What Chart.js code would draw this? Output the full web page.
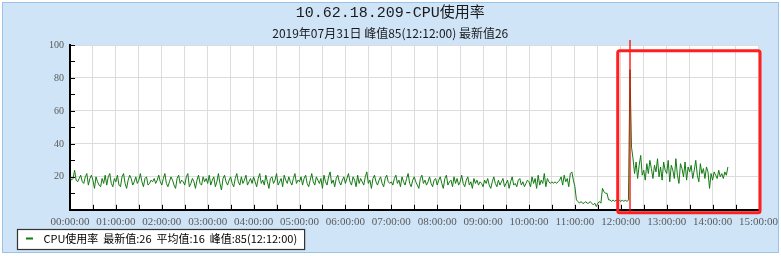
<!DOCTYPE html>
<html>
<head>
<meta charset="utf-8">
<script src="https://cdn.jsdelivr.net/npm/chart.js@4.4.1/dist/chart.umd.min.js"></script>
<style>
  html, body { margin: 0; padding: 0; background: #ffffff; }
  #panel { position: absolute; left: 2px; top: 2px; width: 775px; height: 249px;
           background: #cfe4f7; border: 1px solid #9cc2e8; }
  #wrap { position: absolute; left: 0; top: 0; width: 781px; height: 256px; }
</style>
</head>
<body>
<div id="panel"></div>
<div id="wrap"><canvas id="c" width="781" height="256"></canvas></div>
<script>
// ---- data (2‑minute samples starting 00:00) ----
const title = "10.62.18.209-CPU使用率";
const subtitle = "2019年07月31日 峰值85(12:12:00) 最新值26";
const seriesName = "CPU使用率";
const statLatest = 26;
const statAverage = 16;
const statPeak = 85;
const statPeakTime = "12:12:00";
const sampleStepMinutes = 2;
const hourTickLabels = ["00:00:00","01:00:00","02:00:00","03:00:00","04:00:00","05:00:00","06:00:00","07:00:00","08:00:00","09:00:00","10:00:00","11:00:00","12:00:00","13:00:00","14:00:00","15:00:00"];
const yTickLabels = [20, 40, 60, 80, 100];

const h00 = [20,18,19,24,18,17,19,21,17,16,20,22,15,19,21,18,13,20,17,15,14,19,16,21,15,20,22,16,14,19];
const h01 = [17,21,15,14,20,22,16,13,18,21,19,15,17,20,16,18,22,17,14,19,20,15,16,18,17,19,16,18,21,17];
const h02 = [15,19,22,16,14,17,20,18,15,13,19,21,16,18,17,15,20,22,14,16,19,17,13,18,21,16,15,20,17,19];
const h03 = [16,21,15,18,20,14,17,22,16,12,19,21,17,15,18,20,16,14,19,22,17,15,20,16,18,21,15,17,19,16];
const h04 = [20,17,14,19,22,16,18,15,21,17,13,19,20,16,18,22,15,17,19,14,21,18,16,20,17,15,19,22,16,18];
const h05 = [17,20,15,19,21,16,14,18,22,17,15,20,18,16,19,13,21,17,15,20,23,16,18,14,19,21,17,15,18,20];
const h06 = [16,19,22,17,15,20,18,14,21,16,19,17,15,20,23,16,18,13,19,21,17,15,18,20,16,14,19,21,17,16];
const h07 = [17,15,19,21,16,18,14,20,17,15,19,22,16,14,18,20,17,15,13,19,21,16,18,15,17,20,16,14,18,19];
const h08 = [15,18,20,16,13,19,21,15,17,18,14,20,16,19,15,17,21,16,14,18,20,15,17,13,19,16,18,15,17,16];
const h09 = [14,18,16,19,15,13,17,20,16,14,18,15,17,19,14,16,18,13,17,20,15,16,14,18,19,15,17,14,16,18];
const h10 = [17,14,20,16,19,13,21,15,18,16,22,14,19,17,16,17,16,17,16,17,18,20,15,21,17,19,14,22,23,18];
const h11 = [14,6,5,4,5,4,4,5,4,4,5,4,3,4,2,4,5,4,13,11,10,10,6,6,5,6,5,6,5,6];
const h12 = [5,6,5,6,5,6,85,38,31,22,29,19,27,33,21,24,18,28,22,30,25,19,27,23,31,20,26,18,29,24];
const h13 = [22,30,17,27,24,19,31,21,16,28,25,20,29,18,26,23,27,19,24,30,21,17,28,22,25,19,26,23,13,22];
const h14 = [18,23,21,19,24,20,22,19,23,21,26];

const cpuValues = [].concat(h00,h01,h02,h03,h04,h05,h06,h07,h08,h09,h10,h11,h12,h13,h14);

// ---- styling ----
const LINE_COLOR = '#137a13';
const CJK = '"Noto Sans CJK SC", "Noto Sans CJK JP", sans-serif';
const MONO_CJK = '"Liberation Mono", "Noto Sans CJK SC", monospace';
const SERIF = '"Liberation Serif", "DejaVu Serif", serif';

const points = cpuValues.map((v, i) => ({ x: i * sampleStepMinutes, y: v }));

// annotation (red highlight drawn by the author of the screenshot), in data units
const markTime = 732;            // 12:12 peak
const boxFrom = 716, boxTo = 902, boxTop = 96.5, boxBottom = -1.8;

const decor = {
  id: 'decor',
  beforeDraw(chart) {
    const { ctx, chartArea: a } = chart;
    ctx.save();
    ctx.fillStyle = '#ffffff';
    ctx.fillRect(a.left, a.top, a.right - a.left, a.bottom - a.top);
    const hb = chart.legend && chart.legend.legendHitBoxes && chart.legend.legendHitBoxes[0];
    if (hb) {
      const x0 = hb.left - 9, y0 = hb.top - 4;
      const w = hb.width + 16, h = 20;
      ctx.fillStyle = '#ffffff';
      ctx.fillRect(x0, y0, w, h);
      ctx.strokeStyle = '#333333';
      ctx.lineWidth = 1.2;
      ctx.strokeRect(x0 + 0.5, y0 + 0.5, w, h);
    }
    ctx.restore();
  },
  afterDatasetsDraw(chart) {
    const { ctx, chartArea: a, scales: { x, y } } = chart;
    ctx.save();
    ctx.strokeStyle = '#000';
    ctx.lineWidth = 1;
    // inward tick marks
    for (let m = 0; m <= 900; m += 30) {
      const px = Math.round(x.getPixelForValue(m)) + 0.5;
      ctx.beginPath(); ctx.moveTo(px, a.bottom); ctx.lineTo(px, a.bottom - 5); ctx.stroke();
    }
    for (let v = 0; v <= 100; v += 10) {
      const py = Math.round(y.getPixelForValue(v)) + 0.5;
      ctx.beginPath(); ctx.moveTo(a.left, py); ctx.lineTo(a.left + 5, py); ctx.stroke();
    }
    ctx.restore();
  },
  afterDraw(chart) {
    const { ctx, scales: { x, y } } = chart;
    ctx.save();
    // peak marker line
    const mx = Math.round(x.getPixelForValue(markTime));
    ctx.strokeStyle = '#ff0000';
    ctx.lineWidth = 1.3;
    ctx.beginPath(); ctx.moveTo(mx, y.getPixelForValue(103)); ctx.lineTo(mx, y.getPixelForValue(boxBottom)); ctx.stroke();
    // highlight rectangle
    const l = x.getPixelForValue(boxFrom), r = x.getPixelForValue(boxTo);
    const t = y.getPixelForValue(boxTop), b = y.getPixelForValue(boxBottom);
    ctx.strokeStyle = '#ff1f1f';
    ctx.lineWidth = 3;
    ctx.lineJoin = 'round';
    ctx.beginPath();
    if (ctx.roundRect) ctx.roundRect(l, t, r - l, b - t, 2); else ctx.rect(l, t, r - l, b - t);
    ctx.stroke();
    ctx.restore();
  }
};

new Chart(document.getElementById('c'), {
  type: 'line',
  data: {
    datasets: [{
      label: seriesName,
      data: points,
      borderColor: LINE_COLOR,
      backgroundColor: LINE_COLOR,
      borderWidth: 1,
      pointRadius: 0,
      tension: 0,
      fill: false
    }]
  },
  options: {
    responsive: false,
    animation: false,
    events: [],
    layout: { padding: { left: 22, right: 22.5, top: 0, bottom: 2 } },
    plugins: {
      title: {
        display: true, text: title, color: '#1a1a1a',
        font: { family: MONO_CJK, size: 15, weight: 'normal' },
        padding: { top: 4, bottom: 0 }
      },
      subtitle: {
        display: true, text: subtitle, color: '#1a1a1a',
        font: { family: CJK, size: 12, weight: 'normal' },
        padding: { top: 4, bottom: 4.6 }
      },
      legend: {
        display: true, position: 'bottom', align: 'start',
        labels: {
          font: { family: CJK, size: 11 },
          color: '#000',
          boxWidth: 7, boxHeight: 2, padding: 4,
          generateLabels: () => [{
            text: '  ' + seriesName + '  最新值:' + statLatest + '  平均值:' + statAverage + '  峰值:' + statPeak + '(' + statPeakTime + ')',
            fillStyle: LINE_COLOR, strokeStyle: LINE_COLOR, lineWidth: 0,
            datasetIndex: 0, hidden: false
          }]
        }
      },
      tooltip: { enabled: false }
    },
    scales: {
      x: {
        type: 'linear', min: 0, max: 900,
        afterFit(s) { s.height = 19.2; s.paddingRight = 0; s.paddingLeft = 0; },
        border: { display: true, color: '#000', width: 2 },
        grid: { color: '#dcdcdc', lineWidth: 1, drawTicks: false },
        ticks: {
          stepSize: 30, autoSkip: false, maxRotation: 0, padding: 6,
          color: '#5a5a5a', font: { family: SERIF, size: 11 },
          callback: (v) => (v % 60 === 0 ? hourTickLabels[v / 60] : '')
        }
      },
      y: {
        min: 0, max: 100,
        afterFit(s) { s.width = 48; },
        border: { display: true, color: '#000', width: 2 },
        grid: {
          drawTicks: false, lineWidth: 1,
          color: (c) => (c.tick && yTickLabels.includes(c.tick.value) ? '#dcdcdc' : 'rgba(0,0,0,0)')
        },
        ticks: {
          stepSize: 10, padding: 6,
          color: '#5a5a5a', font: { family: SERIF, size: 10 },
          callback: (v) => (yTickLabels.includes(v) ? String(v) : '')
        }
      }
    }
  },
  plugins: [decor]
});
</script>
</body>
</html>
